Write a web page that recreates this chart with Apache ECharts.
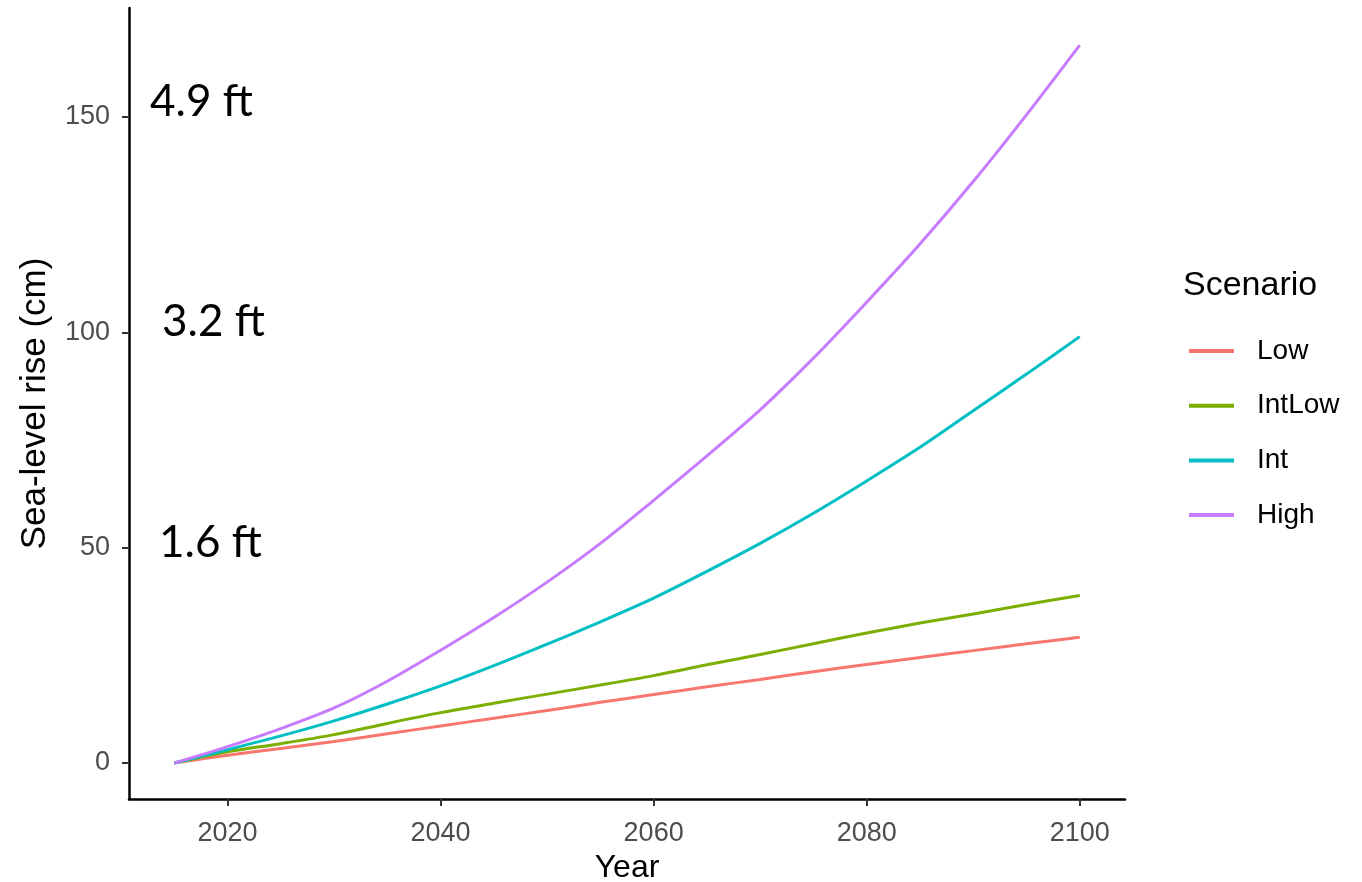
<!DOCTYPE html>
<html>
<head>
<meta charset="utf-8">
<script src="https://cdn.jsdelivr.net/npm/echarts@6/dist/echarts.min.js"></script>
<style>
  html, body { margin: 0; padding: 0; background: #fff; }
  #chart { width: 1362px; height: 882px; }
</style>
</head>
<body>
<div id="chart"></div>
<script>
// sea-level rise projections (cm) by scenario
const years  = [2015, 2020, 2025, 2030, 2035, 2040, 2045, 2050, 2055, 2060, 2065, 2070, 2075, 2080, 2085, 2090, 2095, 2100];
const low    = [0, 1.8, 3.4, 5.0, 6.8, 8.6, 10.4, 12.2, 14.1, 15.9, 17.7, 19.4, 21.2, 22.9, 24.5, 26.1, 27.7, 29.2];
const intLow = [0, 2.6, 4.5, 6.6, 9.2, 11.7, 13.9, 16.0, 18.1, 20.3, 22.8, 25.2, 27.7, 30.2, 32.5, 34.6, 36.8, 38.9];
const intMid = [0, 3.1, 6.3, 9.8, 13.7, 17.9, 22.6, 27.6, 32.8, 38.3, 44.5, 51.0, 58.0, 65.5, 73.3, 81.8, 90.3, 99.0];
const high   = [0, 3.8, 8.0, 12.8, 19.0, 26.2, 33.8, 42.0, 51.0, 61.0, 71.3, 82.0, 94.0, 107.0, 120.5, 135.0, 150.5, 166.7];

const scenarios = ["Low", "IntLow", "Int", "High"];
const colors    = ["#F8766D", "#7CAE00", "#00BFC4", "#C77CFF"];
const xTicks = [2020, 2040, 2060, 2080, 2100];
const yTicks = [0, 50, 100, 150];

// feet annotations on the left
const ftLabels = ["4.9 ft", "3.2 ft", "1.6 ft"];

const FONT = "'Liberation Sans', Arial, sans-serif";

const chart = echarts.init(document.getElementById("chart"));

const series = [low, intLow, intMid, high].map((vals, i) => ({
  name: scenarios[i],
  type: "line",
  smooth: 0.3,
  showSymbol: false,
  lineStyle: { width: 3, color: colors[i] },
  itemStyle: { color: colors[i] },
  data: years.map((y, j) => [y, vals[j]]),
}));

chart.setOption({
  backgroundColor: "#fff",
  animation: false,
  grid: { left: 129, right: 237, top: 8, bottom: 83, outerBoundsMode: "none" },
  title: {
    text: "Scenario",
    left: 1178, top: 264,
    textStyle: { fontFamily: FONT, fontSize: 34, fontWeight: "normal", color: "#000" },
  },
  legend: {
    data: scenarios,
    orient: "vertical",
    left: 1184, top: 332,
    icon: "rect",
    itemWidth: 45, itemHeight: 4,
    itemGap: 26.7,
    textStyle: { fontFamily: FONT, fontSize: 28, color: "#000", lineHeight: 28, padding: [0, 0, 0, 18] },
  },
  xAxis: {
    type: "value",
    min: 2010.75, max: 2104.25,
    name: "Year",
    nameLocation: "middle",
    nameGap: 48,
    nameTextStyle: { fontFamily: FONT, fontSize: 32, color: "#000" },
    axisLine: { show: true, onZero: false, lineStyle: { color: "#000", width: 2.5 } },
    axisTick: { show: true, length: 7, customValues: xTicks, lineStyle: { color: "#333", width: 2 } },
    axisLabel: { customValues: xTicks, margin: 21, fontFamily: FONT, fontSize: 27, color: "#4D4D4D",
                 formatter: v => String(v) },
    splitLine: { show: false },
  },
  yAxis: {
    type: "value",
    min: -8.35, max: 175.3,
    name: "Sea-level rise (cm)",
    nameLocation: "middle",
    nameGap: 76,
    nameRotate: 90,
    nameTextStyle: { fontFamily: FONT, fontSize: 35, color: "#000" },
    axisLine: { show: true, onZero: false, lineStyle: { color: "#000", width: 2.5 } },
    axisTick: { show: true, length: 7, customValues: yTicks, lineStyle: { color: "#333", width: 2 } },
    axisLabel: { customValues: yTicks, margin: 19, fontFamily: FONT, fontSize: 27, color: "#4D4D4D",
                 formatter: v => String(v) },
    splitLine: { show: false },
  },
  graphic: [
    { type: "text", left: 150, top: 80, style: { text: ftLabels[0], font: "44px Lato, sans-serif", fill: "#000" } },
    { type: "text", left: 162, top: 300, style: { text: ftLabels[1], font: "44px Lato, sans-serif", fill: "#000" } },
    { type: "text", left: 159, top: 521, style: { text: ftLabels[2], font: "44px Lato, sans-serif", fill: "#000" } },
  ],
  series,
});
</script>
</body>
</html>
